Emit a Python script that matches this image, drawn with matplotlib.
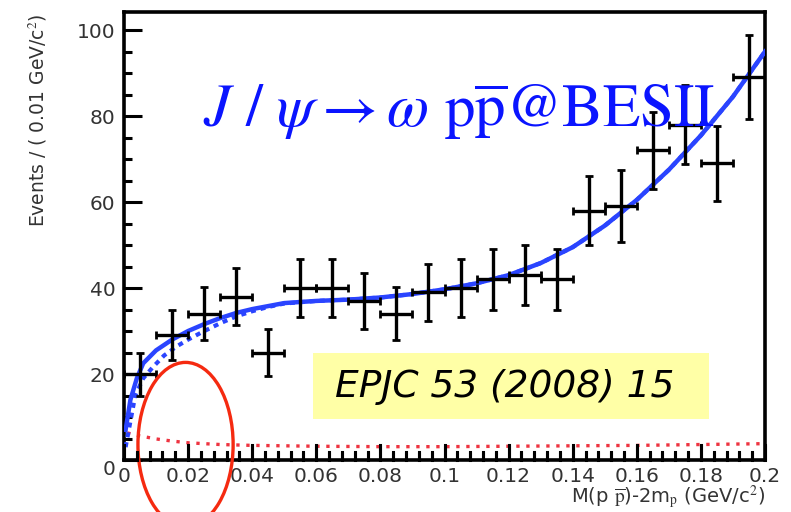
import numpy as np
import matplotlib
matplotlib.use("Agg")
import matplotlib.pyplot as plt
from matplotlib.patches import Ellipse, Rectangle
from matplotlib.lines import Line2D

plt.rcParams["mathtext.fontset"] = "stix"

# Measured spectrum: bin centres (GeV/c^2), counts and errors
bin_centres = [0.005, 0.015, 0.025, 0.035, 0.045, 0.055, 0.065, 0.075, 0.085, 0.095,
               0.105, 0.115, 0.125, 0.135, 0.145, 0.155, 0.165, 0.175, 0.185, 0.195]
counts = [20, 29, 34, 38, 25, 40, 40, 37, 34, 39,
          40, 42, 43, 42, 58, 59, 72, 78, 69, 89]
count_errors = [5.0, 5.8, 6.2, 6.6, 5.4, 6.8, 6.8, 6.5, 6.2, 6.6,
                6.8, 7.0, 7.0, 7.0, 8.0, 8.4, 9.0, 9.2, 8.7, 9.8]
bin_half_width = 0.005

# Fit curves
fit_x = [0.0005, 0.002, 0.004, 0.006, 0.01, 0.015, 0.02, 0.025, 0.03, 0.035, 0.04,
         0.05, 0.06, 0.07, 0.08, 0.09, 0.10, 0.11, 0.12, 0.13, 0.14, 0.15, 0.16,
         0.17, 0.18, 0.19, 0.20]
fit_total = [7, 14, 19, 22.5, 25.5, 28, 30, 31.6, 33, 34.2, 35.1,
             36.5, 37, 37.3, 37.8, 38.6, 39.7, 41.1, 43, 45.8, 49.5, 54.5, 60.5,
             67.5, 75.5, 84.5, 95]
alt_x = [0.0005, 0.002, 0.0035, 0.006, 0.009, 0.0125, 0.0166, 0.02, 0.024, 0.03,
         0.035, 0.04, 0.045, 0.05, 0.06, 0.07, 0.08, 0.09, 0.10, 0.11, 0.12, 0.13,
         0.14, 0.15, 0.16, 0.17, 0.18, 0.19, 0.20]
alt_total = [3, 9, 15, 19, 21.6, 24.3, 26.5, 28, 29.6, 31.8,
             33.4, 34.6, 35.6, 36.4, 37, 37.3, 37.8, 38.6, 39.7, 41.1, 43, 45.8,
             49.5, 54.5, 60.5, 67.5, 75.5, 84.5, 95]
bkg_x = [0.001, 0.005, 0.01, 0.015, 0.02, 0.03, 0.04, 0.06, 0.08, 0.10, 0.12,
         0.14, 0.16, 0.18, 0.20]
bkg_y = [6.3, 5.6, 4.9, 4.4, 4.0, 3.6, 3.4, 3.2, 3.1, 3.1, 3.2, 3.3, 3.4, 3.6, 3.8]

x_tick_values = [0, 0.02, 0.04, 0.06, 0.08, 0.1, 0.12, 0.14, 0.16, 0.18, 0.2]
x_tick_labels = ["0", "0.02", "0.04", "0.06", "0.08", "0.1", "0.12", "0.14",
                 "0.16", "0.18", "0.2"]
x_minor_step = 0.004
y_tick_values = [0, 20, 40, 60, 80, 100]
y_tick_labels = ["0", "20", "40", "60", "80", "100"]

W, H = 791, 512
fig = plt.figure(figsize=(W / 100, H / 100), dpi=100)
ax = fig.add_axes([124 / W, 1 - 460 / H, (765 - 124) / W, (460 - 12) / H])
ax.set_xlim(0, 0.2)
ax.set_ylim(0, 104.2)

for s in ax.spines.values():
    s.set_linewidth(2.6)
    s.set_color("black")

ax.set_xticks(x_tick_values, labels=x_tick_labels)
ax.set_xticks(np.arange(0, 0.2001, x_minor_step), minor=True)
ax.set_yticks(y_tick_values, labels=y_tick_labels)
ax.set_yticks(np.arange(0, 104, 5), minor=True)
ax.tick_params(axis="both", which="both", direction="in", color="black", width=2.2,
               labelcolor="#333333", labelsize=14.5)
ax.tick_params(axis="y", which="major", length=13, pad=6)
ax.tick_params(axis="y", which="minor", length=6)
ax.tick_params(axis="x", which="major", length=11, pad=5)
ax.tick_params(axis="x", which="minor", length=6)
ax.get_yticklabels()[0].set_verticalalignment("top")

# Background and fit curves
ax.plot(bkg_x, bkg_y, color="#ee3340", lw=2.4, ls=(0, (1, 2.0)), zorder=2)
ax.plot(alt_x, alt_total, color="#2a44ff", lw=3.0, ls=(0, (1.2, 1.2)), zorder=3)
ax.plot(fit_x, fit_total, color="#2a44ff", lw=3.2, zorder=4)

# Data with error bars
ax.errorbar(bin_centres, counts, yerr=count_errors, xerr=bin_half_width,
            fmt="none", ecolor="black", elinewidth=2.4, capsize=3, capthick=2,
            zorder=5)

# Highlight near threshold
ax.add_patch(Ellipse((0.0192, 3.6), 0.0297, 38.2, fill=False, edgecolor="#f52a10",
                     lw=2.4, clip_on=False, zorder=6))

# Inward x-axis tick marks, laid on top at figure level
fig.canvas.draw()
to_fig = ax.transData + fig.transFigure.inverted()
base_y = to_fig.transform((0, 0))[1]
for xv in np.arange(0, 0.2001, x_minor_step):
    fx = to_fig.transform((xv, 0))[0]
    major = any(abs(xv - m) < 1e-9 for m in x_tick_values)
    tick_h = (15 if major else 8) / H
    fig.add_artist(Line2D([fx, fx], [base_y, base_y + tick_h],
                          transform=fig.transFigure, color="black", lw=2.2,
                          zorder=10))

# Reference box
fig.add_artist(Rectangle((313 / W, 1 - 419 / H), (709 - 313) / W, (419 - 353) / H,
                         transform=fig.transFigure, facecolor="#ffffa6",
                         edgecolor="none", zorder=3))
fig.text(335 / W, 1 - 387 / H, "EPJC 53 (2008) 15", fontsize=27, style="italic",
         color="black", ha="left", va="center", zorder=7)

# Channel label
fig.text(203 / W, 1 - 127 / H,
         r"$J\ /\ \psi \rightarrow \omega$ p$\overline{\mathrm{p}}$@BESII",
         fontsize=44, color="#0a14ff", family="STIXGeneral", ha="left",
         va="baseline", zorder=7)

# Axis titles
fig.text(38 / W, 1 - 13 / H, r"Events / ( 0.01 GeV/c$^{2}$)", rotation=90,
         fontsize=13.5, color="#333333", ha="center", va="top")
fig.text(765 / W, 1 - 497 / H, r"M(p $\overline{\mathrm{p}}$)-2m$_{\mathrm{p}}$ (GeV/c$^{2}$)",
         fontsize=14, color="#333333", ha="right", va="center")

fig.savefig("out.png", dpi=100)
